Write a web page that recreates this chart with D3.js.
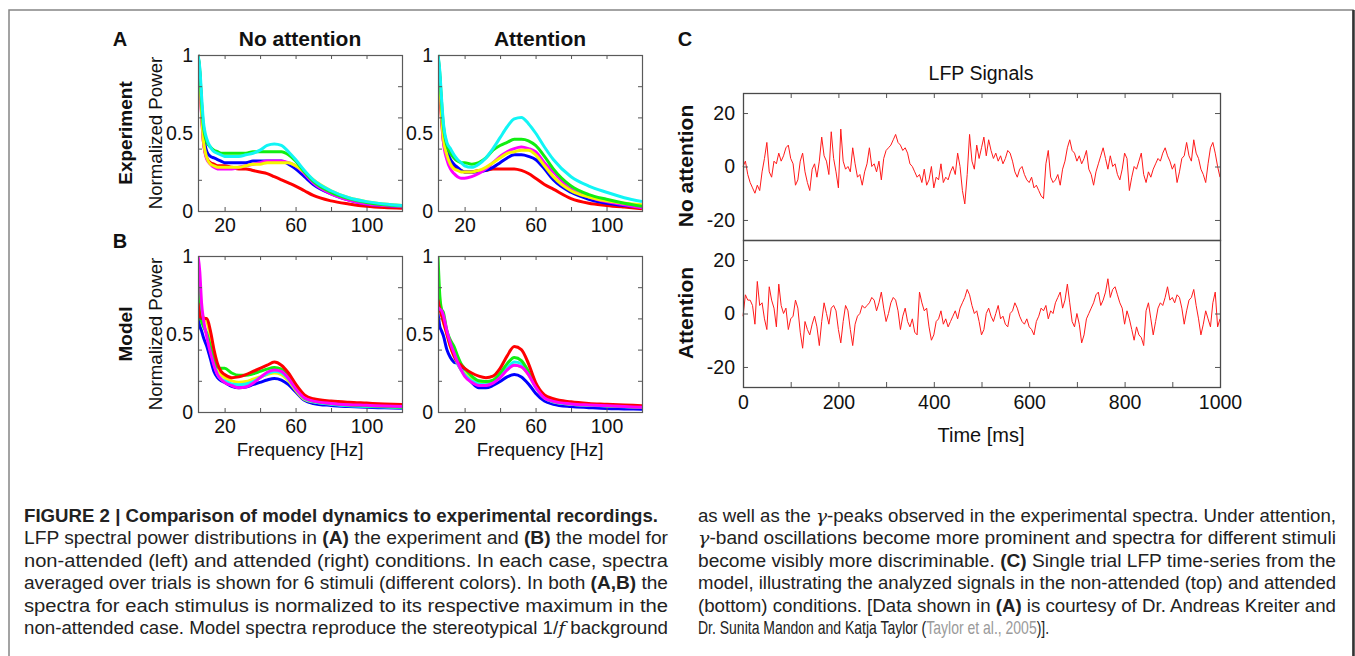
<!DOCTYPE html>
<html>
<head>
<meta charset="utf-8">
<script src="https://cdn.jsdelivr.net/npm/d3@7"></script>
<style>
  body { margin: 0; background: #fff; }
  svg { display: block; }
</style>
</head>
<body>
<svg width="1355" height="656"></svg>
<script>
const font = "'Liberation Sans', Arial, Helvetica, sans-serif";

// spectra: frequency grid (Hz) and normalized power per stimulus
const freqs = [5, 6, 7, 8, 10, 12, 14, 16, 18, 20, 24, 28, 32, 36, 40, 44, 48, 52, 56, 60, 65, 70, 80, 90, 100, 110, 120];
// stimulus order: red, blue, green, cyan, magenta, yellow
const stimulusColors = ["#ff0000", "#0000ff", "#11ee11", "#11f5f5", "#ff00ff", "#f5f500"];

const exptNoAttention = [
  [1.0,0.85,0.62,0.45,0.34,0.31,0.30,0.29,0.29,0.29,0.28,0.27,0.27,0.26,0.25,0.24,0.22,0.20,0.18,0.16,0.13,0.10,0.065,0.045,0.03,0.022,0.018],
  [1.0,0.88,0.68,0.50,0.38,0.35,0.34,0.33,0.32,0.31,0.31,0.31,0.31,0.32,0.32,0.32,0.32,0.32,0.30,0.27,0.22,0.17,0.11,0.07,0.045,0.035,0.028],
  [1.0,0.90,0.70,0.55,0.44,0.41,0.39,0.38,0.37,0.37,0.37,0.37,0.37,0.38,0.38,0.38,0.38,0.38,0.36,0.32,0.25,0.19,0.12,0.08,0.055,0.04,0.032],
  [1.0,0.92,0.74,0.58,0.46,0.41,0.38,0.37,0.36,0.35,0.35,0.35,0.36,0.37,0.39,0.42,0.43,0.42,0.38,0.33,0.26,0.20,0.13,0.085,0.06,0.045,0.035],
  [1.0,0.86,0.62,0.45,0.33,0.30,0.28,0.27,0.27,0.27,0.27,0.28,0.29,0.30,0.31,0.32,0.32,0.32,0.31,0.29,0.24,0.18,0.11,0.07,0.045,0.035,0.028],
  [1.0,0.87,0.64,0.46,0.34,0.30,0.29,0.28,0.28,0.28,0.28,0.28,0.29,0.30,0.30,0.31,0.31,0.31,0.31,0.29,0.25,0.20,0.13,0.085,0.06,0.045,0.035]
];
const exptAttention = [
  [0.88,0.75,0.58,0.45,0.36,0.31,0.29,0.27,0.26,0.25,0.25,0.26,0.26,0.27,0.27,0.27,0.27,0.26,0.24,0.21,0.17,0.14,0.08,0.05,0.036,0.025,0.015],
  [0.97,0.85,0.65,0.50,0.39,0.33,0.30,0.28,0.26,0.25,0.25,0.25,0.26,0.28,0.31,0.34,0.36,0.36,0.35,0.33,0.27,0.20,0.12,0.075,0.05,0.035,0.025],
  [1.0,0.88,0.70,0.55,0.42,0.37,0.34,0.32,0.31,0.31,0.30,0.31,0.34,0.39,0.42,0.44,0.46,0.46,0.45,0.42,0.35,0.27,0.16,0.105,0.075,0.05,0.03],
  [1.0,0.90,0.72,0.57,0.44,0.40,0.36,0.33,0.31,0.29,0.28,0.30,0.34,0.40,0.47,0.54,0.59,0.60,0.56,0.50,0.41,0.33,0.22,0.16,0.12,0.085,0.06],
  [1.0,0.84,0.62,0.45,0.33,0.27,0.24,0.22,0.21,0.21,0.22,0.24,0.27,0.31,0.35,0.38,0.40,0.41,0.40,0.38,0.31,0.25,0.14,0.09,0.06,0.04,0.02],
  [0.95,0.82,0.62,0.47,0.36,0.30,0.27,0.26,0.25,0.25,0.25,0.26,0.28,0.31,0.34,0.37,0.38,0.39,0.39,0.36,0.29,0.22,0.13,0.09,0.065,0.05,0.04]
];
const modelNoAttention = [
  [0.70,0.62,0.60,0.60,0.60,0.52,0.40,0.31,0.26,0.24,0.22,0.225,0.24,0.26,0.28,0.30,0.32,0.30,0.25,0.18,0.11,0.085,0.07,0.062,0.057,0.052,0.048],
  [0.60,0.55,0.52,0.48,0.42,0.34,0.26,0.22,0.20,0.19,0.165,0.155,0.16,0.175,0.19,0.205,0.215,0.205,0.175,0.13,0.075,0.055,0.042,0.035,0.03,0.027,0.024],
  [0.95,0.62,0.58,0.55,0.50,0.42,0.34,0.29,0.28,0.28,0.25,0.235,0.235,0.245,0.26,0.275,0.285,0.275,0.23,0.16,0.09,0.07,0.055,0.045,0.04,0.035,0.03],
  [0.80,0.65,0.60,0.56,0.50,0.40,0.31,0.24,0.21,0.20,0.18,0.175,0.18,0.195,0.22,0.245,0.26,0.25,0.21,0.15,0.085,0.065,0.05,0.04,0.035,0.032,0.028],
  [1.0,0.90,0.70,0.60,0.48,0.38,0.30,0.24,0.21,0.19,0.17,0.155,0.16,0.185,0.22,0.255,0.27,0.26,0.215,0.15,0.09,0.07,0.055,0.047,0.043,0.038,0.035],
  [0.70,0.64,0.62,0.61,0.58,0.48,0.36,0.28,0.24,0.22,0.20,0.19,0.195,0.21,0.225,0.24,0.25,0.24,0.20,0.14,0.08,0.065,0.052,0.045,0.04,0.036,0.032]
];
const modelAttention = [
  [0.72,0.66,0.62,0.58,0.50,0.42,0.36,0.32,0.30,0.28,0.25,0.23,0.22,0.23,0.28,0.36,0.42,0.40,0.31,0.19,0.11,0.085,0.065,0.055,0.05,0.045,0.04],
  [0.63,0.55,0.52,0.49,0.40,0.35,0.32,0.31,0.28,0.25,0.19,0.155,0.155,0.17,0.195,0.225,0.24,0.225,0.18,0.12,0.07,0.05,0.035,0.028,0.022,0.02,0.018],
  [1.0,0.75,0.66,0.64,0.52,0.46,0.42,0.36,0.31,0.28,0.23,0.20,0.195,0.205,0.25,0.31,0.35,0.33,0.26,0.17,0.095,0.07,0.055,0.047,0.04,0.036,0.032],
  [0.75,0.68,0.63,0.60,0.52,0.44,0.37,0.31,0.27,0.24,0.20,0.18,0.175,0.19,0.23,0.28,0.32,0.31,0.25,0.16,0.09,0.065,0.05,0.043,0.038,0.034,0.03],
  [0.67,0.66,0.65,0.62,0.52,0.44,0.38,0.32,0.27,0.23,0.19,0.17,0.17,0.185,0.22,0.27,0.30,0.29,0.24,0.16,0.09,0.068,0.052,0.045,0.04,0.035,0.03],
  [0.86,0.72,0.64,0.58,0.50,0.42,0.36,0.31,0.27,0.25,0.21,0.19,0.185,0.195,0.23,0.28,0.30,0.29,0.24,0.16,0.09,0.066,0.05,0.044,0.04,0.036,0.032]
];

const freqTicks = [20, 40, 60, 80, 100];
const freqLabels = [20, 60, 100];
const powerTicks = [0, 0.2, 0.4, 0.6, 0.8, 1];
const powerLabels = [0, 0.5, 1];

// LFP traces, one value every lfpStep ms
const lfpStep = 5;
const lfpNoAttention = [
  0,2,-3,-6,-8,-10,-7,-9,-2,3,9,-2,-4,2,1,5,2,4,7,8,
  3,1,-7,-5,2,5,-2,-6,-9,-1,1,-4,2,11,4,2,-3,13,3,-2,
  -8,14,2,-1,0,-2,7,1,-4,-3,-7,-2,1,7,0,1,-2,2,-5,3,
  6,7,8,10,12,9,8,6,7,5,1,0,-2,-4,-3,-6,-1,-7,-5,0,
  -8,-4,-5,1,-6,-4,-5,-2,0,-3,5,0,-9,-14,-3,12,2,-1,8,3,
  7,11,4,10,6,3,5,2,4,1,3,6,5,2,-2,-4,-1,0,-3,-5,
  -6,-4,-8,-7,-9,-11,-12,1,6,-4,-6,-5,-3,-7,-1,2,7,10,6,5,
  2,4,1,3,6,-1,-3,-7,-2,1,4,7,3,-1,4,0,1,-3,-5,-1,
  5,3,-9,-4,0,-1,2,5,-3,-6,-2,-4,-1,1,3,2,5,7,4,2,
  -1,1,-6,-2,3,4,9,4,2,10,5,3,-1,-3,-6,1,7,9,5,0,
  -4
];
const lfpAttention = [
  -1,7,5,5,3,-4,12,3,4,-2,-6,10,5,2,-5,11,3,0,2,-6,
  -2,-1,5,2,-7,-13,-3,-6,-8,-4,-1,-5,-12,-3,4,0,-4,2,3,1,
  -6,-11,-3,3,1,-6,-12,-4,-1,0,3,2,3,4,6,5,1,4,8,2,
  -3,0,4,6,5,1,-6,-1,2,-3,-5,-2,-7,-8,8,4,1,2,-5,-10,
  -8,-3,-2,1,-4,-2,-5,-3,-1,1,-2,2,4,6,9,7,3,0,1,-3,
  -8,-6,0,2,-1,-3,0,3,-2,-1,-4,-5,0,1,4,2,-1,-3,-4,-2,
  -5,-6,-8,-3,-1,2,1,3,-2,1,0,4,6,8,2,5,11,4,-3,-5,
  0,-4,-11,-8,-2,0,2,4,7,8,3,5,8,13,6,9,10,7,4,2,
  -4,1,-2,-6,-10,-5,-8,-9,-12,1,4,-2,-8,-3,2,4,3,6,10,5,
  6,4,7,6,2,-4,1,5,6,9,3,-2,-8,-4,1,-2,-5,4,8,-5,
  -2
];
const timeTicks = [0, 100, 200, 300, 400, 500, 600, 700, 800, 900, 1000];
const timeLabels = [0, 200, 400, 600, 800, 1000];
const lfpTicks = [-20, 0, 20];

const svg = d3.select("svg");

// figure frame
svg.append("rect").attr("x", 9).attr("y", 10).attr("width", 1344).attr("height", 700)
  .attr("fill", "none").attr("stroke", "#858585").attr("stroke-width", 1.5);
svg.append("line").attr("x1", 1353.5).attr("x2", 1353.5).attr("y1", 10).attr("y2", 656)
  .attr("stroke", "#333").attr("stroke-width", 2.5);

function addText(x, y, str, size, opts = {}) {
  const t = svg.append("text")
    .attr("x", x).attr("y", y)
    .attr("font-family", font)
    .attr("font-size", size)
    .attr("font-weight", opts.bold ? "bold" : "normal")
    .attr("text-anchor", opts.anchor || "middle")
    .attr("fill", "#111")
    .text(str);
  if (opts.rotate) t.attr("transform", `rotate(-90,${x},${y})`);
  return t;
}

function styleAxis(g, size) {
  g.attr("font-family", font).attr("font-size", size).attr("color", "#555");
  g.select(".domain").remove();
  g.selectAll("text").attr("fill", "#111");
}

function drawSpectrum(series, order, left, top) {
  const w = 204, h = 156;
  const x = d3.scaleLinear().domain([5, 120]).range([left, left + w]);
  const y = d3.scaleLinear().domain([0, 1]).range([top + h, top]);
  const id = "clip" + left + "_" + top;

  svg.append("clipPath").attr("id", id)
    .append("rect").attr("x", left).attr("y", top - 2).attr("width", w).attr("height", h + 2);

  const line = d3.line()
    .x((d, i) => x(freqs[i]))
    .y(d => y(d))
    .curve(d3.curveMonotoneX);

  const g = svg.append("g").attr("clip-path", `url(#${id})`);
  order.forEach(k => {
    g.append("path")
      .attr("d", line(series[k]))
      .attr("fill", "none")
      .attr("stroke", stimulusColors[k])
      .attr("stroke-width", 3)
      .attr("stroke-linejoin", "round");
  });

  svg.append("g").attr("transform", `translate(0,${top + h})`)
    .call(d3.axisBottom(x).tickValues(freqTicks).tickSize(-4).tickPadding(7)
      .tickFormat(d => freqLabels.includes(d) ? d : ""))
    .call(a => styleAxis(a, 19.5));
  svg.append("g").attr("transform", `translate(0,${top})`)
    .call(d3.axisTop(x).tickValues(freqTicks).tickSize(-4).tickFormat(""))
    .call(a => styleAxis(a, 10));
  svg.append("g").attr("transform", `translate(${left},0)`)
    .call(d3.axisLeft(y).tickValues(powerTicks).tickSize(-4).tickFormat(""))
    .call(a => styleAxis(a, 10));
  svg.append("g").attr("transform", `translate(${left},0)`)
    .call(d3.axisLeft(y).tickValues(powerLabels).tickSize(0).tickPadding(5).tickFormat(d3.format("~g")))
    .call(a => styleAxis(a, 19.5));
  svg.append("g").attr("transform", `translate(${left + w},0)`)
    .call(d3.axisRight(y).tickValues(powerTicks).tickSize(-4).tickFormat(""))
    .call(a => styleAxis(a, 10));

  svg.append("rect").attr("x", left + 0.5).attr("y", top + 0.5).attr("width", w).attr("height", h)
    .attr("fill", "none").attr("stroke", "#5a5a5a").attr("stroke-width", 1.2);
}

function drawLfp(values, top, isBottom) {
  const left = 743, w = 477, h = 147;
  const x = d3.scaleLinear().domain([0, 1000]).range([left, left + w]);
  const y = d3.scaleLinear().domain([-27.5, 27.5]).range([top + h, top]);

  svg.append("path")
    .attr("d", d3.line().x((d, i) => x(i * lfpStep)).y(d => y(d))(values))
    .attr("fill", "none")
    .attr("stroke", "#ff1a1a")
    .attr("stroke-width", 1);

  if (isBottom) {
    svg.append("g").attr("transform", `translate(0,${top + h})`)
      .call(d3.axisBottom(x).tickValues(timeTicks).tickSize(-5).tickPadding(8)
        .tickFormat(d => timeLabels.includes(d) ? d : ""))
      .call(a => styleAxis(a, 19.5));
  } else {
    svg.append("g").attr("transform", `translate(0,${top})`)
      .call(d3.axisTop(x).tickValues(timeTicks).tickSize(-5).tickFormat(""))
      .call(a => styleAxis(a, 10));
  }
  svg.append("g").attr("transform", `translate(${left},0)`)
    .call(d3.axisLeft(y).tickValues(lfpTicks).tickSize(-5).tickPadding(8).tickFormat(d => String(d)))
    .call(a => styleAxis(a, 19.5));
  svg.append("g").attr("transform", `translate(${left + w},0)`)
    .call(d3.axisRight(y).tickValues(lfpTicks).tickSize(-5).tickFormat(""))
    .call(a => styleAxis(a, 10));

  svg.append("rect").attr("x", left + 0.5).attr("y", top + 0.5).attr("width", w).attr("height", h)
    .attr("fill", "none").attr("stroke", "#4a4a4a").attr("stroke-width", 1.3);
}

// panels A and B
drawSpectrum(exptNoAttention, [0, 1, 4, 5, 2, 3], 198, 55);
drawSpectrum(exptAttention, [0, 1, 4, 5, 2, 3], 438, 55);
drawSpectrum(modelNoAttention, [1, 5, 3, 2, 0, 4], 198, 256);
drawSpectrum(modelAttention, [1, 5, 3, 2, 0, 4], 438, 256);

addText(120, 46, "A", 20, { bold: true });
addText(120, 248, "B", 20, { bold: true });
addText(685, 46, "C", 20, { bold: true });
addText(300, 46, "No attention", 21, { bold: true });
addText(540, 46, "Attention", 21, { bold: true });
addText(132, 133, "Experiment", 19, { bold: true, rotate: true });
addText(132, 334, "Model", 19, { bold: true, rotate: true });
addText(162, 133, "Normalized Power", 18.7, { rotate: true });
addText(162, 334, "Normalized Power", 18.7, { rotate: true });
addText(300, 456, "Frequency [Hz]", 18.7);
addText(540, 456, "Frequency [Hz]", 18.7);

// panel C
drawLfp(lfpNoAttention, 93, false);
drawLfp(lfpAttention, 240, true);
addText(981, 80, "LFP Signals", 19.5);
addText(981, 442, "Time [ms]", 20);
addText(693, 166, "No attention", 21, { bold: true, rotate: true });
addText(693, 313, "Attention", 21, { bold: true, rotate: true });

// caption: **bold**, _italic_, ~grey~
const captionLeft = [
  "**FIGURE 2 | Comparison of model dynamics to experimental recordings.**",
  "LFP spectral power distributions in **(A)** the experiment and **(B)** the model for",
  "non-attended (left) and attended (right) conditions. In each case, spectra",
  "averaged over trials is shown for 6 stimuli (different colors). In both **(A,B)** the",
  "spectra for each stimulus is normalized to its respective maximum in the",
  "non-attended case. Model spectra reproduce the stereotypical 1/_f_ background"
];
const captionRight = [
  "as well as the _γ_-peaks observed in the experimental spectra. Under attention,",
  "_γ_-band oscillations become more prominent and spectra for different stimuli",
  "become visibly more discriminable. **(C)** Single trial LFP time-series from the",
  "model, illustrating the analyzed signals in the non-attended (top) and attended",
  "(bottom) conditions. [Data shown in **(A)** is courtesy of Dr. Andreas Kreiter and",
  "Dr. Sunita Mandon and Katja Taylor (~Taylor et al., 2005~)]."
];
const leftWidths = [634, 644, 644, 644, 644, 644];
const rightWidths = [638, 638, 638, 638, 638, null];

function captionLine(x, y, str, width) {
  const t = svg.append("text")
    .attr("font-family", font)
    .attr("font-size", 17.5)
    .attr("fill", "#222")
    .style("white-space", "pre");
  str.split(/(\*\*.*?\*\*|_.*?_|~.*?~)/).filter(s => s.length).forEach(s => {
    const sp = t.append("tspan");
    if (s.startsWith("**")) sp.text(s.slice(2, -2)).attr("font-weight", "bold");
    else if (s.startsWith("_")) sp.text(s.slice(1, -1)).attr("font-style", "italic").attr("font-family", "'DejaVu Serif', serif");
    else if (s.startsWith("~")) sp.text(s.slice(1, -1)).attr("fill", "#9a9a9a");
    else sp.text(s);
  });
  if (width) {
    t.attr("x", x).attr("y", y).attr("textLength", width).attr("lengthAdjust", "spacingAndGlyphs");
  } else {
    // last line is not justified; the journal font is narrower
    t.attr("transform", `translate(${x},${y}) scale(0.8,1)`);
  }
}

captionLeft.forEach((s, i) => captionLine(24, 522 + i * 22.4, s, leftWidths[i]));
captionRight.forEach((s, i) => captionLine(698, 522 + i * 22.4, s, rightWidths[i]));
</script>
</body>
</html>
